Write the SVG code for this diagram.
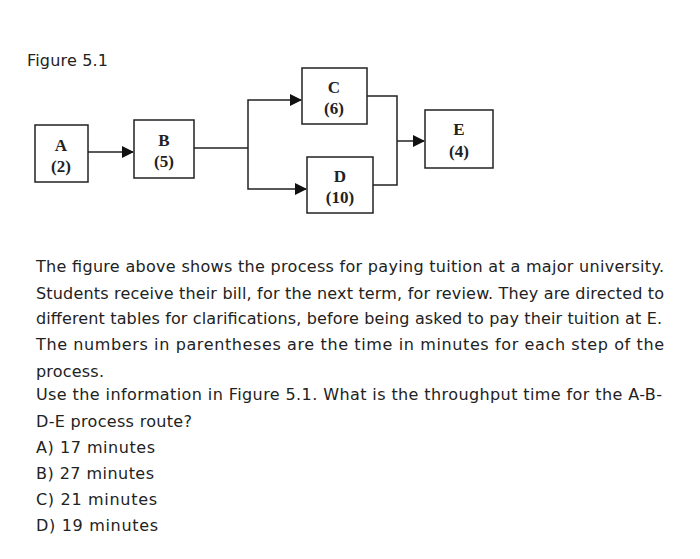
<svg xmlns="http://www.w3.org/2000/svg" width="700" height="559" viewBox="0 0 700 559">
<style>
.box{fill:#fff;stroke:#222;stroke-width:1.5}
.nt{font-family:"Liberation Serif",serif;font-weight:bold;font-size:17px;text-anchor:middle;fill:#222}
.ln{fill:none;stroke:#222;stroke-width:1.5}
.tx{font-family:"DejaVu Sans",sans-serif;font-size:16px;fill:#222}
</style>
<defs><marker id="ah" markerWidth="12" markerHeight="12" refX="11" refY="6" orient="auto" markerUnits="userSpaceOnUse" viewBox="0 0 12 12"><path d="M0,0L12,6L0,12z" fill="#111"/></marker></defs>
<rect width="700" height="559" fill="#fff"/>
<text class="tx" x="27" y="66" textLength="81">Figure 5.1</text>
<g id="connectors">
<path class="ln" d="M88,152H133" marker-end="url(#ah)"/>
<path class="ln" d="M194,148H248"/>
<path class="ln" d="M248,148V100H301" marker-end="url(#ah)"/>
<path class="ln" d="M248,148V189H306" marker-end="url(#ah)"/>
<path class="ln" d="M367,96H397V185H373"/>
<path class="ln" d="M397,141H424" marker-end="url(#ah)"/>
</g>
<g id="A"><rect class="box" x="35" y="125" width="53" height="57"/><text class="nt" x="61" y="151">A</text><text class="nt" x="61" y="172">(2)</text></g>
<g id="B"><rect class="box" x="134" y="120" width="60" height="58"/><text class="nt" x="164" y="146">B</text><text class="nt" x="164" y="167">(5)</text></g>
<g id="C"><rect class="box" x="302" y="68" width="65" height="56"/><text class="nt" x="334" y="93">C</text><text class="nt" x="334" y="114">(6)</text></g>
<g id="D"><rect class="box" x="307" y="157" width="66" height="56"/><text class="nt" x="340" y="182">D</text><text class="nt" x="340" y="203">(10)</text></g>
<g id="E"><rect class="box" x="425" y="110" width="68" height="58"/><text class="nt" x="459" y="135">E</text><text class="nt" x="459" y="157">(4)</text></g>
<text class="tx" x="36" y="272" textLength="628">The figure above shows the process for paying tuition at a major university.</text>
<text class="tx" x="36" y="299" textLength="628">Students receive their bill, for the next term, for review. They are directed to</text>
<text class="tx" x="36" y="324" textLength="626">different tables for clarifications, before being asked to pay their tuition at E.</text>
<text class="tx" x="36" y="350" textLength="628">The numbers in parentheses are the time in minutes for each step of the</text>
<text class="tx" x="36" y="377" textLength="68">process.</text>
<text class="tx" x="36" y="400" textLength="626">Use the information in Figure 5.1. What is the throughput time for the A-B-</text>
<text class="tx" x="36" y="427" textLength="156">D-E process route?</text>
<text class="tx" x="36" y="453" textLength="119">A) 17 minutes</text>
<text class="tx" x="36" y="479" textLength="118">B) 27 minutes</text>
<text class="tx" x="36" y="505" textLength="121">C) 21 minutes</text>
<text class="tx" x="36" y="531" textLength="122">D) 19 minutes</text>
</svg>
